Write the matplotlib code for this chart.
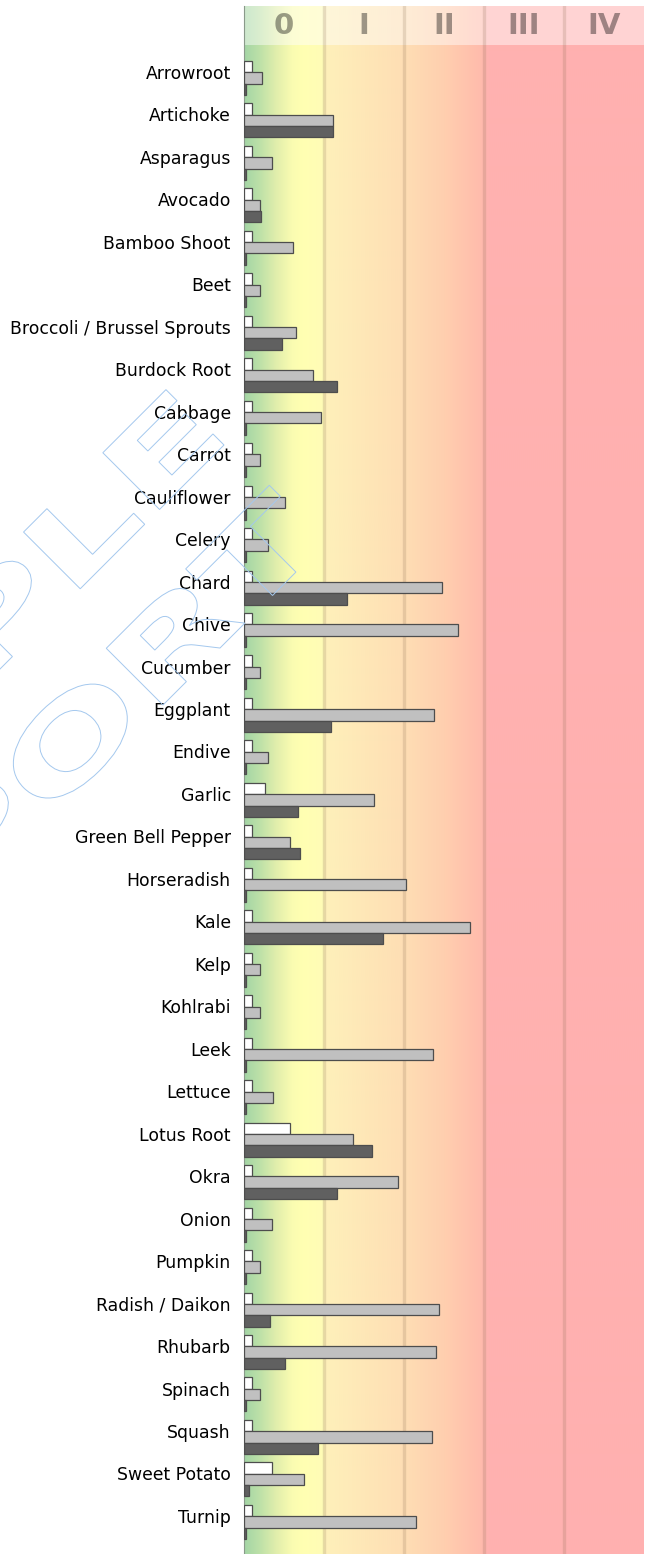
import matplotlib
matplotlib.use("Agg")
import matplotlib.pyplot as plt
import numpy as np
from matplotlib.textpath import TextPath
from matplotlib.patches import PathPatch, Rectangle
from matplotlib.font_manager import FontProperties
from matplotlib.transforms import Affine2D

categories = ["Arrowroot", "Artichoke", "Asparagus", "Avocado", "Bamboo Shoot", "Beet",
              "Broccoli / Brussel Sprouts", "Burdock Root", "Cabbage", "Carrot", "Cauliflower",
              "Celery", "Chard", "Chive", "Cucumber", "Eggplant", "Endive", "Garlic",
              "Green Bell Pepper", "Horseradish", "Kale", "Kelp", "Kohlrabi", "Leek", "Lettuce",
              "Lotus Root", "Okra", "Onion", "Pumpkin", "Radish / Daikon", "Rhubarb", "Spinach",
              "Squash", "Sweet Potato", "Turnip"]

# three series per vegetable (top: white, middle: light gray, bottom: dark gray)
white_vals = [0.1, 0.1, 0.1, 0.1, 0.1, 0.1, 0.1, 0.1, 0.1, 0.1, 0.1, 0.1, 0.1, 0.1, 0.1, 0.1,
              0.1, 0.26, 0.1, 0.1, 0.1, 0.1, 0.1, 0.1, 0.1, 0.57, 0.1, 0.1, 0.1, 0.1, 0.1, 0.1,
              0.1, 0.35, 0.1]
gray_vals = [0.23, 1.11, 0.35, 0.20, 0.61, 0.20, 0.65, 0.86, 0.96, 0.20, 0.51, 0.30, 2.47,
             2.67, 0.20, 2.375, 0.30, 1.62, 0.57, 2.03, 2.82, 0.20, 0.20, 2.36, 0.36, 1.36,
             1.93, 0.35, 0.20, 2.44, 2.40, 0.20, 2.35, 0.75, 2.15]
dark_vals = [0.03, 1.11, 0.03, 0.21, 0.03, 0.03, 0.48, 1.16, 0.03, 0.03, 0.03, 0.03, 1.29,
             0.03, 0.03, 1.09, 0.03, 0.68, 0.70, 0.03, 1.74, 0.03, 0.03, 0.03, 0.03, 1.60,
             1.16, 0.03, 0.03, 0.32, 0.51, 0.03, 0.93, 0.06, 0.03]

zones = ["0", "I", "II", "III", "IV"]

W, H = 651, 1554
fig = plt.figure(figsize=(W / 100, H / 100), dpi=100)
ax = fig.add_axes([244 / W, 0, 400 / W, (H - 6) / H])

# y scale: 42.47 px per category, first group centred at 77.9 px from top
px = 42.47
y_top = (6 - 77.9) / px
y_bot = (H - 77.9) / px
ax.set_xlim(0, 5)
ax.set_ylim(y_bot, y_top)

# background gradient green -> yellow -> orange -> pink
stops = [(0.00, (163, 213, 165)), (0.20, (190, 225, 168)), (0.40, (225, 238, 172)),
         (0.60, (250, 252, 177)), (0.72, (255, 255, 178)), (0.98, (255, 252, 182)),
         (1.02, (254, 240, 186)), (2.00, (254, 222, 180)), (2.50, (255, 207, 175)),
         (2.95, (255, 188, 172)), (3.05, (255, 178, 176)), (5.00, (255, 176, 176))]
xs = np.linspace(0, 5, 600)
sx = [s[0] for s in stops]
grad = np.zeros((1, len(xs), 3))
for c in range(3):
    grad[0, :, c] = np.interp(xs, sx, [s[1][c] / 255 for s in stops])
ax.imshow(grad, extent=[0, 5, y_bot, y_top], aspect="auto", zorder=0, interpolation="bilinear")

# header band
hh = (45 - 6) / px
ax.add_patch(Rectangle((0, y_top), 5, hh, facecolor="white", alpha=0.45, lw=0, zorder=1))
for i, z in enumerate(zones):
    ax.text(i + 0.5, y_top + hh / 2, z, ha="center", va="center", fontsize=21,
            fontweight="bold", color="black", alpha=0.38, zorder=2)

for xv in [1, 2, 3, 4]:
    ax.axvline(xv, color="#8a6a50", alpha=0.2, lw=2.4, zorder=1.5)

bh = 0.267
y = np.arange(len(categories))
ec = "#4d4d4d"
ax.barh(y - bh, white_vals, height=bh, color="white", edgecolor=ec, lw=0.9, zorder=3)
ax.barh(y, gray_vals, height=bh, color="#c0c0c0", edgecolor=ec, lw=0.9, zorder=3)
ax.barh(y + bh, dark_vals, height=bh, color="#606060", edgecolor=ec, lw=0.9, zorder=3)

ax.set_yticks(y - 0.14)
ax.set_yticklabels(categories, fontsize=12.4)
ax.tick_params(axis="y", length=0, pad=9.5)
ax.set_xticks([])
for s in ["top", "right", "bottom"]:
    ax.spines[s].set_visible(False)
ax.spines["left"].set_color("#8a9a8a")
ax.spines["left"].set_linewidth(0.8)

# watermark, outlined and rotated
fp = FontProperties(family="DejaVu Sans", weight="bold")
def watermark(word, x_img, y_img, stretch=1.6):
    tp = TextPath((0, 0), word, size=110, prop=fp)
    xmax = tp.get_extents().x1 * stretch
    tr = Affine2D().scale(stretch, 1.0).translate(-xmax, 0).rotate_deg(45).translate(x_img, H - y_img)
    fig.add_artist(PathPatch(tp, transform=tr, fill=False, edgecolor="#a4c8ee", lw=0.7, zorder=10))

watermark("SAMPLE", 224, 445)
watermark("REPORT", 326, 542)

fig.savefig("out.png", dpi=100)
